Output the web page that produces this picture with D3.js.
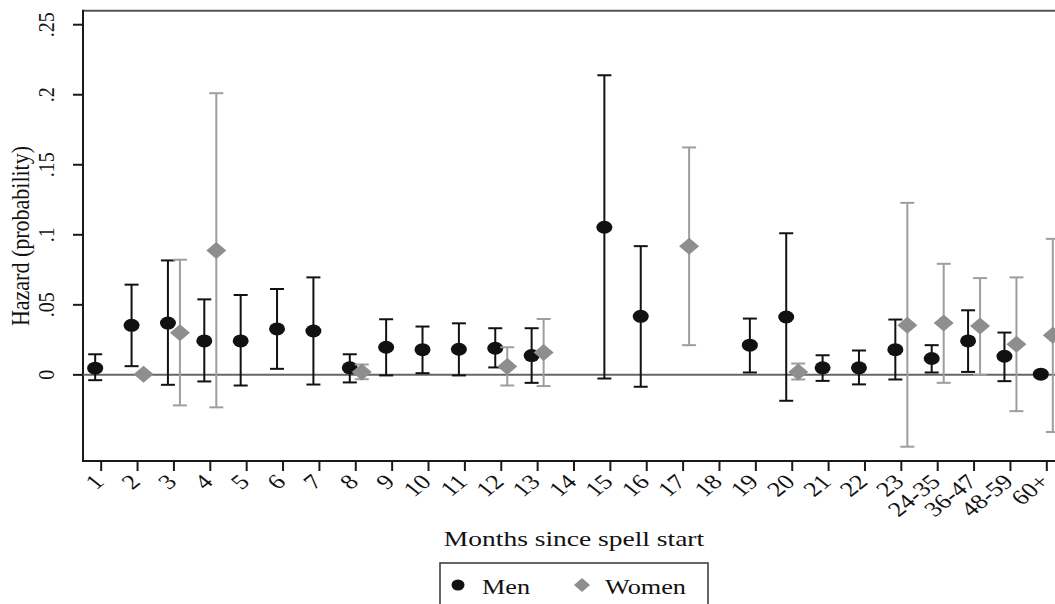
<!DOCTYPE html>
<html>
<head>
<meta charset="utf-8">
<script src="https://cdn.jsdelivr.net/npm/d3@7"></script>
<style>
  body { margin: 0; background: #fff; }
</style>
</head>
<body>
<div id="chart"></div>
<script>
// Chart data
const months = ["1","2","3","4","5","6","7","8","9","10","11","12","13","14","15","16","17","18","19","20","21","22","23","24-35","36-47","48-59","60+"];

const menEst = [0.0048,0.0354,0.037,0.0242,0.0242,0.0328,0.0313,0.005,0.0197,0.018,0.0183,0.019,0.0138,null,0.1054,0.0418,null,null,0.0212,0.0413,0.005,0.005,0.018,0.0117,0.0242,0.0133,0.0005];
const menLo  = [-0.0038,0.0062,-0.0071,-0.0047,-0.0076,0.0043,-0.0069,-0.0054,-0.0004,0.0012,-0.0004,0.0053,-0.0057,null,-0.0026,-0.0085,null,null,0.0017,-0.0185,-0.0043,-0.0068,-0.0033,0.0017,0.0021,-0.0045,null];
const menHi  = [0.0147,0.0644,0.0817,0.0539,0.057,0.0613,0.0696,0.0147,0.0397,0.0345,0.0368,0.0333,0.0333,null,0.2139,0.0919,null,null,0.0402,0.1011,0.014,0.0174,0.0395,0.0212,0.0461,0.0302,null];

const womenEst = [null,0.0005,0.030,0.0888,null,null,null,0.0021,null,null,null,0.006,0.016,null,null,null,0.0919,null,null,0.0021,null,null,0.0354,0.037,0.0349,0.0219,0.0283];
const womenLo  = [null,null,-0.0218,-0.0232,null,null,null,-0.0031,null,null,null,-0.0076,-0.008,null,null,null,0.0212,null,null,-0.0033,null,null,-0.0513,-0.0057,0.0,-0.0259,-0.0408];
const womenHi  = [null,null,0.0822,0.2011,null,null,null,0.0074,null,null,null,0.0197,0.0399,null,null,null,0.1624,null,null,0.0081,null,null,0.1228,0.0793,0.0691,0.0696,0.0971];

const yTicks = [0, 0.05, 0.1, 0.15, 0.2, 0.25];
const yTickLabels = ["0", ".05", ".1", ".15", ".2", ".25"];

const width = 1055, height = 604;
const plotLeft = 83, plotTop = 10.7, plotBottom = 461;
const stretch = 1.25; // the figure is a bit wider than tall
const serif = "'Liberation Serif', 'Times New Roman', serif";

const svg = d3.select("#chart").append("svg")
  .attr("width", width)
  .attr("height", height);

const x = d3.scalePoint().domain(months).range([plotLeft, plotLeft + 982]).padding(0.5);
const y = d3.scaleLinear().domain([-0.0615, 0.26]).range([plotBottom, plotTop]);

function styleText(sel, size) {
  return sel.style("font-family", serif)
    .attr("font-size", size)
    .attr("fill", "#111");
}

// frame lines
svg.append("line").attr("x1", plotLeft).attr("x2", width + 5).attr("y1", plotTop).attr("y2", plotTop)
  .attr("stroke", "#555").attr("stroke-width", 2);
svg.append("line").attr("x1", plotLeft).attr("x2", width + 5).attr("y1", plotBottom).attr("y2", plotBottom)
  .attr("stroke", "#1a1a1a").attr("stroke-width", 2);
svg.append("line").attr("x1", plotLeft).attr("x2", plotLeft).attr("y1", plotTop - 1).attr("y2", plotBottom + 1)
  .attr("stroke", "#1a1a1a").attr("stroke-width", 2);

// zero line
svg.append("line").attr("x1", plotLeft).attr("x2", width + 5).attr("y1", y(0)).attr("y2", y(0))
  .attr("stroke", "#666").attr("stroke-width", 2);

// y ticks
svg.selectAll(".ytick").data(yTicks).enter().append("line")
  .attr("x1", plotLeft - 10).attr("x2", plotLeft)
  .attr("y1", d => y(d)).attr("y2", d => y(d))
  .attr("stroke", "#1a1a1a").attr("stroke-width", 2);
styleText(svg.selectAll(".ylab").data(yTicks).enter().append("text")
  .attr("transform", d => `translate(54,${y(d)}) scale(1.15,1) rotate(-90)`)
  .attr("text-anchor", "middle")
  .text((d, i) => yTickLabels[i]), 20);

// x ticks
svg.selectAll(".xtick").data(months).enter().append("line")
  .attr("x1", d => x(d)).attr("x2", d => x(d))
  .attr("y1", plotBottom).attr("y2", plotBottom + 10)
  .attr("stroke", "#1a1a1a").attr("stroke-width", 2);
styleText(svg.selectAll(".xlab").data(months).enter().append("text")
  .attr("transform", d => `translate(${x(d) + 4},${plotBottom + 22}) scale(${stretch},1) rotate(-45)`)
  .attr("text-anchor", "end")
  .text(d => d), 21);

// axis titles
styleText(svg.append("text")
  .attr("transform", "translate(29,236) scale(1.1,1) rotate(-90)")
  .attr("text-anchor", "middle")
  .text("Hazard (probability)"), 22);
styleText(svg.append("text")
  .attr("transform", `translate(574,546) scale(${stretch},1)`)
  .attr("text-anchor", "middle")
  .text("Months since spell start"), 22);

// series
function series(est, lo, hi, offset, color, barColor, shape) {
  const rows = months.map((m, i) => ({ m: m, est: est[i], lo: lo[i], hi: hi[i] }))
    .filter(d => d.est !== null);
  const bars = rows.filter(d => d.lo !== null);
  const g = svg.append("g");
  g.selectAll(".bar").data(bars).enter().append("line")
    .attr("x1", d => x(d.m) + offset).attr("x2", d => x(d.m) + offset)
    .attr("y1", d => y(d.lo)).attr("y2", d => y(d.hi))
    .attr("stroke", barColor).attr("stroke-width", 2);
  ["lo", "hi"].forEach(k => {
    g.selectAll(".cap" + k).data(bars).enter().append("line")
      .attr("x1", d => x(d.m) + offset - 7).attr("x2", d => x(d.m) + offset + 7)
      .attr("y1", d => y(d[k])).attr("y2", d => y(d[k]))
      .attr("stroke", barColor).attr("stroke-width", 2);
  });
  if (shape === "circle") {
    g.selectAll(".pt").data(rows).enter().append("ellipse")
      .attr("cx", d => x(d.m) + offset).attr("cy", d => y(d.est))
      .attr("rx", 8).attr("ry", 6.5)
      .attr("fill", color);
  } else {
    g.selectAll(".pt").data(rows).enter().append("path")
      .attr("d", d => {
        const cx = x(d.m) + offset, cy = y(d.est);
        return `M${cx - 10},${cy}L${cx},${cy - 8.5}L${cx + 10},${cy}L${cx},${cy + 8.5}Z`;
      })
      .attr("fill", color);
  }
}
series(menEst, menLo, menHi, -6, "#111", "#111", "circle");
series(womenEst, womenLo, womenHi, 6, "#8e8e8e", "#9e9e9e", "diamond");

// legend
const lg = svg.append("g");
lg.append("rect").attr("x", 440).attr("y", 563).attr("width", 268).attr("height", 60)
  .attr("fill", "none").attr("stroke", "#333").attr("stroke-width", 1.5);
lg.append("ellipse").attr("cx", 458).attr("cy", 585).attr("rx", 6.5).attr("ry", 5.5).attr("fill", "#111");
styleText(lg.append("text").attr("transform", `translate(482,594) scale(${stretch},1)`)
  .text("Men"), 21);
lg.append("path").attr("d", "M574,585L582,578L590,585L582,592Z").attr("fill", "#8e8e8e");
styleText(lg.append("text").attr("transform", `translate(605,594) scale(${stretch},1)`)
  .text("Women"), 21);
</script>
</body>
</html>
